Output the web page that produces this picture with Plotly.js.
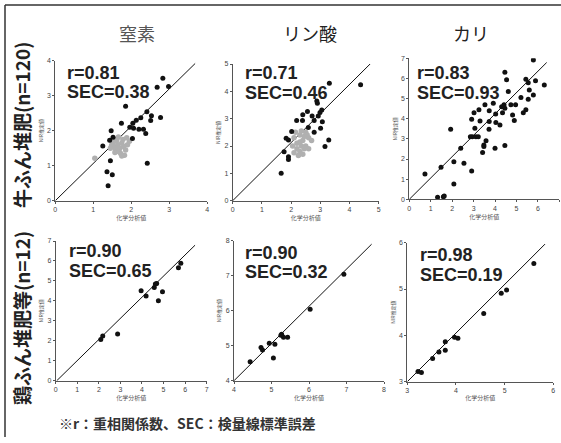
<!DOCTYPE html>
<html><head><meta charset="utf-8">
<script src="https://cdn.plot.ly/plotly-3.0.1.min.js"></script>
<style>html,body{margin:0;padding:0;background:#fff;}#chart{width:561px;height:443px;}</style>
</head><body><div id="chart"></div>
<script>
// ---------- data ----------
const colTitles = ["窒素", "リン酸", "カリ"];
const rowTitles = ["牛ふん堆肥(n=120)", "鶏ふん堆肥等(n=12)"];
const xTitle = "化学分析値";
const yTitle = "NIR推定値";
const footnote = "※r：重相関係数、SEC：検量線標準誤差";
const rValues = ["0.81", "0.71", "0.83", "0.90", "0.90", "0.98"];
const secValues = ["0.38", "0.46", "0.93", "0.65", "0.32", "0.19"];

// 牛ふん堆肥 窒素
const cowN_x = [2.83,2.98,2.68,1.85,1.74,2.41,2.53,2.51,2.77,2.25,2.13,2.04,1.96,2.06,2.20,2.32,2.38,1.47,1.43,1.52,1.25,2.03,1.45,2.42,1.36,1.50,1.39];
const cowN_y = [3.50,3.26,3.24,2.70,2.21,2.54,2.43,2.29,2.38,2.37,2.30,2.21,2.10,2.07,2.04,2.04,1.92,2.00,1.73,1.81,1.56,1.78,1.14,1.07,0.83,0.74,0.43];
const cowN_gx = [1.50,1.55,1.60,1.65,1.70,1.58,1.62,1.75,1.80,1.68,1.72,1.85,1.52,1.48,1.78,1.90,1.66,1.57,1.82,1.95,1.45,1.63,1.75,1.04,1.88];
const cowN_gy = [1.65,1.55,1.70,1.60,1.50,1.45,1.75,1.65,1.55,1.40,1.35,1.45,1.72,1.58,1.75,1.60,1.82,1.38,1.30,1.70,1.50,1.52,1.28,1.21,1.80];
// 牛ふん堆肥 リン酸
const cowP_x = [4.38,3.31,2.88,2.90,3.05,2.99,2.93,2.56,2.40,2.72,2.19,2.39,2.79,3.07,2.59,3.01,3.29,3.16,2.02,1.83,1.91,1.76,1.91,1.91,1.66,2.79];
const cowP_y = [4.24,4.30,3.65,3.56,3.32,3.23,3.10,3.26,3.14,3.10,2.93,2.93,2.93,2.89,2.68,2.65,2.22,1.98,2.53,2.28,2.22,1.79,1.61,1.51,1.00,2.50];
const cowP_gx = [2.10,2.20,2.30,2.40,2.50,2.20,2.30,2.40,2.50,2.60,2.15,2.35,2.45,2.55,2.25,2.05,2.60,2.35,2.70,2.10,2.45,2.30];
const cowP_gy = [2.30,2.10,2.40,2.20,2.50,1.90,1.80,1.70,2.00,2.30,2.50,2.00,1.90,2.40,1.65,2.00,1.90,2.55,2.20,1.75,2.35,2.15];
// 牛ふん堆肥 カリ
const cowK_x = [5.79,4.46,5.44,5.55,5.89,6.30,4.54,4.62,5.60,5.79,5.55,5.21,5.44,5.32,4.96,4.74,4.82,4.90,4.42,4.46,4.35,4.31,3.92,4.03,4.04,4.23,3.73,3.73,3.72,3.53,3.58,3.48,3.48,3.42,4.46,4.00,3.25,3.30,3.02,2.91,3.06,2.94,3.11,3.22,2.85,2.40,1.93,2.08,2.55,2.91,1.48,0.73,2.08,1.32,1.59,1.63];
const cowK_y = [6.92,6.31,5.96,5.79,5.89,5.68,5.93,5.35,5.43,5.18,4.97,5.05,4.44,4.30,4.69,4.69,4.19,3.91,4.69,4.52,4.30,4.60,4.77,4.24,3.81,3.69,4.39,3.86,3.48,4.69,2.91,2.70,2.62,2.32,2.67,2.53,4.44,3.89,4.30,3.97,3.53,3.11,3.11,3.11,3.11,2.53,3.48,1.87,1.79,1.41,1.59,1.26,0.76,0.10,0.13,0.17];
// 鶏ふん堆肥等 窒素
const chkN_x = [5.80,5.69,4.68,4.57,3.96,4.19,4.95,4.76,2.87,2.18,2.09,4.62];
const chkN_y = [5.88,5.66,4.87,4.67,4.51,4.24,4.46,4.01,2.34,2.24,2.07,4.85];
// 鶏ふん堆肥等 リン酸
const chkP_x = [6.93,6.03,5.27,5.32,5.43,5.09,4.94,4.72,4.76,5.05,4.43,5.25];
const chkP_y = [7.04,6.04,5.33,5.24,5.24,5.04,5.07,4.95,4.88,4.65,4.54,5.30];
// 鶏ふん堆肥等 カリ
const chkK_x = [5.60,5.04,4.93,4.57,3.97,4.04,3.78,3.78,3.65,3.52,3.22,3.29];
const chkK_y = [5.55,4.98,4.91,4.47,3.96,3.94,3.86,3.68,3.64,3.50,3.22,3.20];

// reference lines (start, end) as drawn
const lineN1_x = [0, 3.68], lineN1_y = [0, 3.92];
const lineP1_x = [0, 4.79], lineP1_y = [0, 5.09];
const lineK1_x = [0, 6.41], lineK1_y = [0, 6.79];
const lineN2_x = [0.05, 6.46], lineN2_y = [0, 6.79];
const lineP2_x = [4, 7.67], lineP2_y = [4, 7.90];
const lineK2_x = [3, 5.83], lineK2_y = [3, 5.97];

// axis ranges / ticks
const ranges = [[0,4,0,4],[0,5,0,5],[0,7,0,7],[0,7,0,7],[4,8,4,8],[3,6,3,6]];

// ---------- layout helpers ----------
const W = 561, H = 443;
// pixel boxes [x0, x1, yBottom, yTop]
const boxes = [
  [55.3, 207.3, 200.7, 60.7],
  [232.7, 378.7, 200.7, 64.0],
  [409.3, 559.3, 199.3, 58.3],
  [55.7, 206.7, 380.7, 241.0],
  [234.0, 384.0, 380.7, 240.7],
  [407.3, 553.3, 381.7, 242.7]
];
const statPos = [[65,73,91.5],[243,73,92.5],[415,73,93],[67,251,270.5],[243,253,271.5],[418,255,275]];

const black = [[cowN_x,cowN_y],[cowP_x,cowP_y],[cowK_x,cowK_y],[chkN_x,chkN_y],[chkP_x,chkP_y],[chkK_x,chkK_y]];
const gray = [[cowN_gx,cowN_gy],[cowP_gx,cowP_gy],null,null,null,null];
const lines = [[lineN1_x,lineN1_y],[lineP1_x,lineP1_y],[lineK1_x,lineK1_y],[lineN2_x,lineN2_y],[lineP2_x,lineP2_y],[lineK2_x,lineK2_y]];

const traces = [];
const layout = {
  width: W, height: H,
  margin: {l:0, r:0, t:0, b:0},
  paper_bgcolor: '#fff', plot_bgcolor: 'rgba(0,0,0,0)',
  showlegend: false,
  font: {family: 'Liberation Sans, Arial, sans-serif', color: '#222'},
  annotations: [], shapes: []
};

for (let i = 0; i < 6; i++) {
  const xa = i === 0 ? 'x' : 'x' + (i+1);
  const ya = i === 0 ? 'y' : 'y' + (i+1);
  const b = boxes[i];
  const r = ranges[i];
  layout['xaxis' + (i===0?'':i+1)] = {
    domain: [b[0]/W, b[1]/W], range: [r[0], r[1]], dtick: 1, anchor: ya,
    showline: true, linecolor: '#555', linewidth: 1, showgrid: false, zeroline: false,
    ticks: 'outside', ticklen: 2, tickcolor: '#555', automargin: false,
    tickfont: {size: 7, color: '#444', family: 'Liberation Sans, Arial'},
    title: {text: xTitle, font: {size: 6, color: '#555', family: 'Noto Sans CJK JP'}, standoff: 2}
  };
  layout['yaxis' + (i===0?'':i+1)] = {
    domain: [1 - b[2]/H, 1 - b[3]/H], range: [r[2], r[3]], dtick: 1, anchor: xa,
    showline: true, linecolor: '#555', linewidth: 1, showgrid: false, zeroline: false,
    ticks: 'outside', ticklen: 2, tickcolor: '#555', automargin: false,
    tickfont: {size: 7, color: '#444', family: 'Liberation Sans, Arial'},
    title: {text: yTitle, font: {size: 5, color: '#555', family: 'Noto Sans CJK JP'}, standoff: 3}
  };
  traces.push({x: lines[i][0], y: lines[i][1], xaxis: xa, yaxis: ya, mode: 'lines', line: {color: '#111', width: 1}, hoverinfo: 'skip'});
  if (gray[i]) traces.push({x: gray[i][0], y: gray[i][1], xaxis: xa, yaxis: ya, mode: 'markers', marker: {color: '#b0b0b0', size: 5.5}});
  traces.push({x: black[i][0], y: black[i][1], xaxis: xa, yaxis: ya, mode: 'markers', marker: {color: '#111', size: 5}});
  const sp = statPos[i];
  layout.annotations.push({xref:'paper', yref:'paper', x: sp[0]/W, y: 1 - sp[1]/H, xanchor:'left', yanchor:'middle', showarrow:false,
    text: 'r=' + rValues[i], font: {size: 18, color: '#222', family: 'Liberation Sans, Arial', weight: 'bold'}});
  layout.annotations.push({xref:'paper', yref:'paper', x: sp[0]/W, y: 1 - sp[2]/H, xanchor:'left', yanchor:'middle', showarrow:false,
    text: 'SEC=' + secValues[i], font: {size: 18, color: '#222', family: 'Liberation Sans, Arial', weight: 'bold'}});
}

// column titles
const colX = [137, 310, 471];
colTitles.forEach((t, k) => layout.annotations.push({xref:'paper', yref:'paper', x: colX[k]/W, y: 1 - 33/H,
  xanchor:'center', yanchor:'middle', showarrow:false, text: t,
  font: {size: 18, color: k === 0 ? '#555' : '#222', family: 'Noto Sans CJK JP'}}));
// row titles
const rowY = [125, 318];
rowTitles.forEach((t, k) => layout.annotations.push({xref:'paper', yref:'paper', x: 21/W, y: 1 - rowY[k]/H,
  xanchor:'center', yanchor:'middle', showarrow:false, textangle: -90, text: t,
  font: {size: 19, color: '#222', family: 'Noto Sans CJK JP', weight: 'bold'}}));
// footnote
layout.annotations.push({xref:'paper', yref:'paper', x: 57/W, y: 1 - 423/H, xanchor:'left', yanchor:'middle', showarrow:false,
  text: footnote, font: {size: 14, color: '#333', family: 'Noto Sans CJK JP', weight: 'bold'}});

// frame lines
layout.shapes.push({type:'line', xref:'paper', yref:'paper', x0: 5/W, x1: 1, y0: 1 - 5/H, y1: 1 - 5/H, line: {color:'#333', width: 1.5}});
layout.shapes.push({type:'line', xref:'paper', yref:'paper', x0: 5/W, x1: 5/W, y0: 1 - 5/H, y1: 1 - 437/H, line: {color:'#333', width: 1.5}});

Plotly.newPlot('chart', traces, layout, {staticPlot: true, displayModeBar: false});
</script></body></html>
